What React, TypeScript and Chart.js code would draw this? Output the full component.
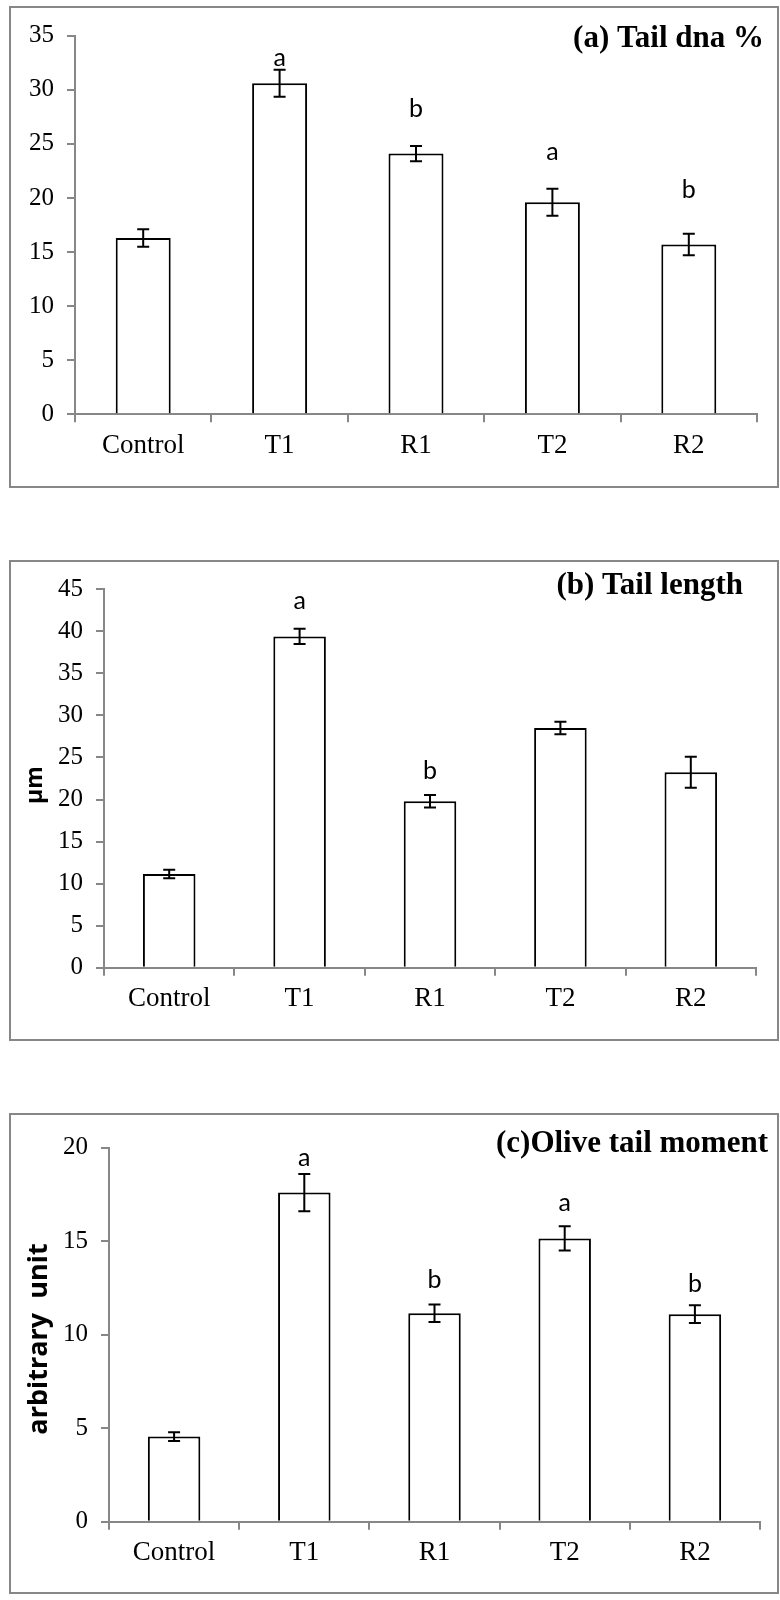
import React, { useEffect, useRef } from "react";
import { Chart, registerables } from "chart.js";

Chart.register(...registerables);

// Treatment groups shared by all three panels
const groups = ["Control", "T1", "R1", "T2", "R2"];

// (a) Tail DNA %
const tailDnaMean = [16.3, 30.6, 24.1, 19.6, 15.7];
const tailDnaErr = [0.8, 1.25, 0.7, 1.25, 1.0];
const tailDnaLetters = ["", "a", "b", "a", "b"];
const tailDnaLetterAt = [0, 32.2, 27.5, 23.5, 20.0];

// (b) Tail length, µm
const tailLengthMean = [11.15, 39.4, 19.8, 28.5, 23.25];
const tailLengthErr = [0.5, 0.9, 0.75, 0.75, 1.85];
const tailLengthLetters = ["", "a", "b", "", ""];
const tailLengthLetterAt = [0, 42.7, 22.5, 0, 0];

// (c) Olive tail moment, arbitrary unit
const oliveMean = [4.55, 17.6, 11.15, 15.15, 11.1];
const oliveErr = [0.23, 1.0, 0.47, 0.65, 0.47];
const oliveLetters = ["", "a", "b", "a", "b"];
const oliveLetterAt = [0, 19.0, 12.5, 16.6, 12.3];

// Axis ranges
const tailDnaMax = 35;
const tailLengthMax = 45;
const oliveMax = 20;
const tickStep = 5;

const AXIS = "#878787";
const SERIF = "'Liberation Serif', 'Times New Roman', serif";
const SANS = "Lato, 'Noto Sans', sans-serif";
const BOLD_SANS = "'Open Sans', 'Noto Sans', sans-serif";

type Panel = {
  title: string;
  yTitle: string;
  mean: number[];
  err: number[];
  letters: string[];
  letterAt: number[];
  max: number;
  top: number;
  height: number;
  area: { left: number; right: number; top: number; bottom: number };
  titleRight: number;
  titleBase: number;
  yTitleX: number;
  yTitleY: number;
  yTitleSize: number;
};

const W = 770;

const panels: Panel[] = [
  {
    title: "(a) Tail dna %",
    yTitle: "",
    mean: tailDnaMean,
    err: tailDnaErr,
    letters: tailDnaLetters,
    letterAt: tailDnaLetterAt,
    max: tailDnaMax,
    top: 6,
    height: 482,
    area: { left: 66, right: 748, top: 29.7, bottom: 408.3 },
    titleRight: 755,
    titleBase: 41,
    yTitleX: 0,
    yTitleY: 0,
    yTitleSize: 0,
  },
  {
    title: "(b) Tail length",
    yTitle: "µm",
    mean: tailLengthMean,
    err: tailLengthErr,
    letters: tailLengthLetters,
    letterAt: tailLengthLetterAt,
    max: tailLengthMax,
    top: 560,
    height: 481,
    area: { left: 95, right: 747, top: 29.3, bottom: 407.7 },
    titleRight: 734,
    titleBase: 33.5,
    yTitleX: 26,
    yTitleY: 225,
    yTitleSize: 23,
  },
  {
    title: "(c)Olive tail moment",
    yTitle: "arbitrary  unit",
    mean: oliveMean,
    err: oliveErr,
    letters: oliveLetters,
    letterAt: oliveLetterAt,
    max: oliveMax,
    top: 1113,
    height: 481,
    area: { left: 100, right: 751, top: 34.7, bottom: 408.7 },
    titleRight: 759,
    titleBase: 39,
    yTitleX: 30,
    yTitleY: 226,
    yTitleSize: 27,
  },
];

function makeDecor(p: Panel) {
  return {
    id: "panelDecor",
    afterDatasetsDraw(chart: any) {
      const ctx = chart.ctx as CanvasRenderingContext2D;
      const xs = chart.scales.x;
      const ys = chart.scales.y;
      ctx.save();
      // error bars
      ctx.strokeStyle = "#000";
      ctx.lineWidth = 2;
      p.mean.forEach((m, i) => {
        const x = xs.getPixelForValue(i);
        const yHi = ys.getPixelForValue(m + p.err[i]);
        const yLo = ys.getPixelForValue(m - p.err[i]);
        ctx.beginPath();
        ctx.moveTo(x, yHi);
        ctx.lineTo(x, yLo);
        ctx.moveTo(x - 6, yHi);
        ctx.lineTo(x + 6, yHi);
        ctx.moveTo(x - 6, yLo);
        ctx.lineTo(x + 6, yLo);
        ctx.stroke();
      });
      // significance letters
      ctx.fillStyle = "#000";
      ctx.font = `25px ${SANS}`;
      ctx.textAlign = "center";
      ctx.textBaseline = "alphabetic";
      p.letters.forEach((l, i) => {
        if (!l) return;
        ctx.fillText(l, xs.getPixelForValue(i), ys.getPixelForValue(p.letterAt[i]));
      });
      ctx.restore();
    },
    afterDraw(chart: any) {
      const ctx = chart.ctx as CanvasRenderingContext2D;
      ctx.save();
      // panel frame
      ctx.strokeStyle = AXIS;
      ctx.lineWidth = 2;
      ctx.strokeRect(1, 1, chart.width - 2, chart.height - 2);
      // panel title
      ctx.fillStyle = "#000";
      ctx.font = `bold 31px ${SERIF}`;
      ctx.textAlign = "right";
      ctx.textBaseline = "alphabetic";
      ctx.fillText(p.title, p.titleRight, p.titleBase);
      // y-axis title
      if (p.yTitle) {
        ctx.translate(p.yTitleX, p.yTitleY);
        ctx.rotate(-Math.PI / 2);
        ctx.font = `bold ${p.yTitleSize}px ${BOLD_SANS}`;
        ctx.textAlign = "center";
        ctx.textBaseline = "middle";
        ctx.fillText(p.yTitle, 0, 0);
      }
      ctx.restore();
    },
  };
}

function PanelChart({ p }: { p: Panel }) {
  const ref = useRef<HTMLCanvasElement>(null);
  useEffect(() => {
    if (!ref.current) return;
    const chart = new Chart(ref.current, {
      type: "bar",
      data: {
        labels: groups,
        datasets: [
          {
            data: p.mean,
            backgroundColor: "#ffffff",
            borderColor: "#000000",
            borderWidth: 2,
            barPercentage: 0.403,
            categoryPercentage: 1,
          },
        ],
      },
      options: {
        responsive: false,
        animation: false,
        devicePixelRatio: 1,
        layout: {
          padding: { top: p.area.top, right: W - p.area.right, left: 0, bottom: 0 },
        },
        plugins: {
          legend: { display: false },
          tooltip: { enabled: false },
          title: { display: false },
        },
        scales: {
          x: {
            offset: true,
            grid: {
              offset: true,
              drawOnChartArea: false,
              drawTicks: true,
              tickLength: 8,
              color: AXIS,
              lineWidth: 2,
            },
            border: { display: true, color: AXIS, width: 2 },
            ticks: {
              color: "#000",
              font: { family: SERIF, size: 27 },
              padding: 7,
              maxRotation: 0,
              autoSkip: false,
            },
            afterFit: (s: any) => {
              s.height = p.height - p.area.bottom;
            },
          },
          y: {
            min: 0,
            max: p.max,
            ticks: {
              stepSize: tickStep,
              color: "#000",
              font: { family: SERIF, size: 25 },
              padding: 13,
            },
            grid: {
              drawOnChartArea: false,
              tickLength: 8,
              color: AXIS,
              lineWidth: 2,
            },
            border: { display: true, color: AXIS, width: 2 },
            afterFit: (s: any) => {
              s.width = p.area.left;
            },
          },
        },
      },
      plugins: [makeDecor(p)],
    } as any);
    return () => chart.destroy();
  }, [p]);
  return (
    <canvas
      ref={ref}
      width={W}
      height={p.height}
      style={{ position: "absolute", left: 9, top: p.top, width: W, height: p.height }}
    />
  );
}

export default function App() {
  return (
    <div>
      {panels.map((p) => (
        <PanelChart key={p.title} p={p} />
      ))}
    </div>
  );
}
